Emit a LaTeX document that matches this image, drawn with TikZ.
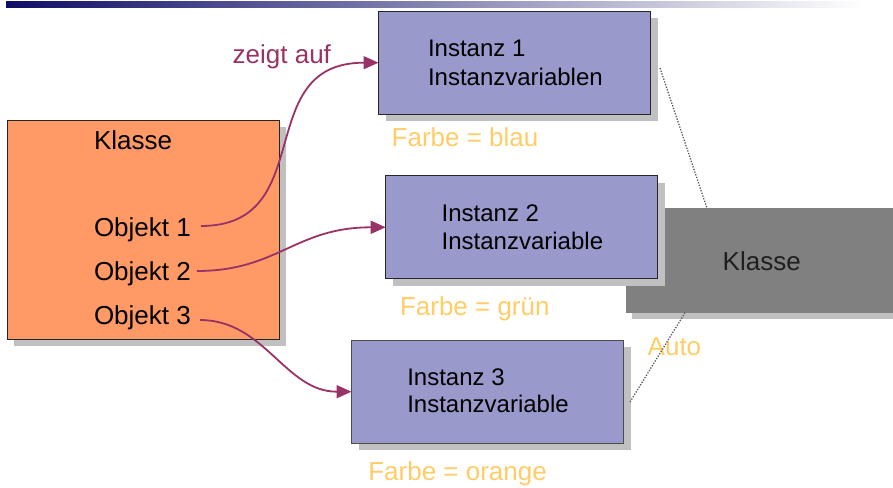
\documentclass[tikz,border=0pt]{standalone}
\usepackage{fontspec}
\setmainfont{Liberation Sans}
\usetikzlibrary{arrows.meta,shadows,calc}
\definecolor{orangefill}{HTML}{FF9966}
\definecolor{instfill}{HTML}{9999CC}
\definecolor{klassegrey}{HTML}{808080}
\definecolor{shadowgrey}{HTML}{C0C0C0}
\definecolor{plum}{HTML}{993366}
\definecolor{farbe}{HTML}{FFCC66}
\definecolor{navy}{HTML}{0E0E66}
\definecolor{barmid}{RGB}{165,165,188}
\begin{document}
\begin{tikzpicture}[x=1pt,y=-1pt,
  box/.style={rectangle, draw=black!85, line width=1pt, inner sep=0pt, outer sep=0pt,
    drop shadow={shadow xshift=7pt, shadow yshift=-7pt, fill=shadowgrey, opacity=1}},
  instbox/.style={box, fill=instfill, minimum width=272pt, minimum height=103.3pt},
  txt/.style={anchor=base west, inner sep=0pt, outer sep=0pt, font=\fontsize{26}{30}\selectfont},
  itxt/.style={anchor=base west, inner sep=0pt, outer sep=0pt, font=\fontsize{24}{28}\selectfont},
  farbelabel/.style={txt, text=farbe},
  pointer/.style={draw=plum, line width=1.8pt, -{Triangle[length=15pt,width=13pt]}},
  dotline/.style={draw=black!65, line width=1.3pt, dash pattern=on 1.3pt off 1.5pt}]
\useasboundingbox (0,0) rectangle (893,487);

% header bar
\shade[left color=navy, middle color=barmid, right color=white] (6,1.7) rectangle (862,7.5);

% grey class box (behind)
\node[rectangle, fill=klassegrey, inner sep=0pt, outer sep=0pt,
  minimum width=267pt, minimum height=104.4pt,
  drop shadow={shadow xshift=6pt, shadow yshift=-6pt, fill=shadowgrey, opacity=1}] (g) at (759.5,260.5) {};
\node[txt, text=black!88] (gt) at (722.7,270) {Klasse};

% left class box
\node[box, fill=orangefill, minimum width=272pt, minimum height=219pt] (k) at (143,229.5) {};
\node[txt] (kt) at (94,149) {Klasse};
\node[txt] (o1) at (94,236) {Objekt 1};
\node[txt] (o2) at (94,280.7) {Objekt 2};
\node[txt] (o3) at (94,324.3) {Objekt 3};

% instance boxes
\node[instbox] (i1) at (514.5,62.7) {};
\node[itxt] (i1a) at (428,56.7) {Instanz 1};
\node[itxt] (i1b) at (428,85) {Instanzvariablen};

\node[instbox] (i2) at (521.7,227.3) {};
\node[itxt] (i2a) at (441.7,221) {Instanz 2};
\node[itxt] (i2b) at (441.7,249) {Instanzvariable};

\node[instbox, draw=black!70] (i3) at (487.5,391.7) {};
\node[itxt] (i3a) at (407.3,385) {Instanz 3};
\node[itxt] (i3b) at (407.3,412.7) {Instanzvariable};

% labels
\node[txt, text=plum] (za) at (232.7,63.3) {zeigt auf};
\node[farbelabel] (f1) at (391.7,146.7) {Farbe = blau};
\node[farbelabel] (f2) at (400,315) {Farbe = grün};
\node[farbelabel] (f3) at (368.3,480) {Farbe = orange};
\node[farbelabel] (au) at (647.7,355) {Auto};

% dotted links to the class
\coordinate (d1) at (660,68);
\coordinate (d1e) at (707,208.3);
\coordinate (d2) at (630,402);
\coordinate (d2e) at (685,312.7);
\draw[dotline] (d1) -- (d1e);
\draw[dotline] (d2) -- (d2e);

% pointers
\coordinate (s1) at ($(o1.base east)+(10,-10)$);
\coordinate (s2) at ($(o2.base east)+(6,-9.7)$);
\coordinate (s3) at ($(o3.base east)+(9,-4.3)$);
\draw[pointer] (s1) .. controls (320,226) and (250,62.7) .. (i1.west);
\draw[pointer] (s2) .. controls (278,271) and (295,227.3) .. (i2.west);
\draw[pointer] (s3) .. controls (265,320) and (285,391.7) .. (i3.west);
\end{tikzpicture}
\end{document}
